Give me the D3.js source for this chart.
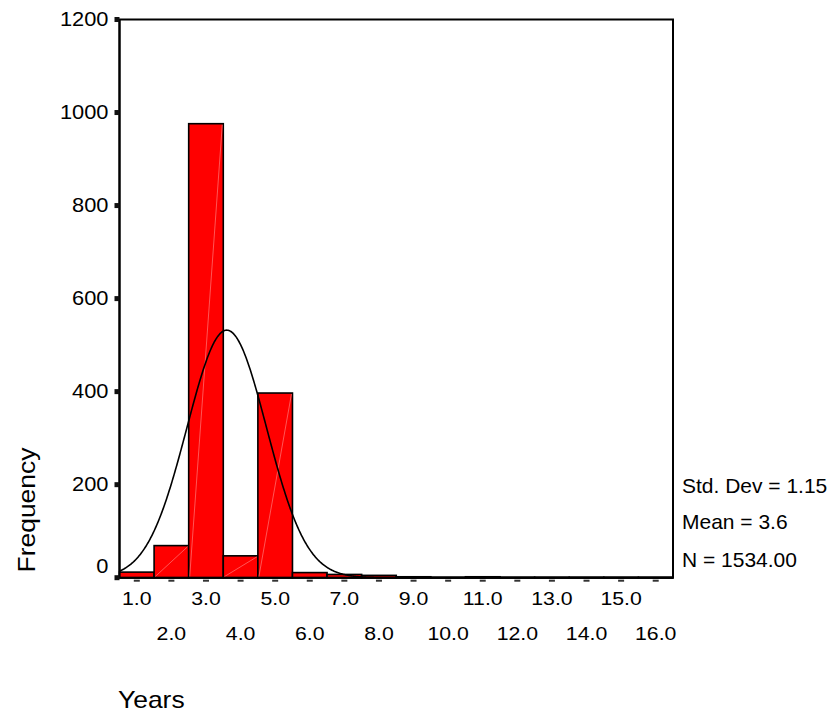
<!DOCTYPE html>
<html>
<head>
<meta charset="utf-8">
<script src="https://cdn.jsdelivr.net/npm/d3@7"></script>
<style>
  html, body { margin: 0; padding: 0; background: #fff; }
  svg { display: block; }
  text { font-family: "Liberation Sans", Arial, Helvetica, sans-serif; fill: #000; }
</style>
</head>
<body>
<svg id="chart" width="833" height="713"></svg>
<script>
// Histogram of years, one bar per whole-year bin
const binCenters = [1, 2, 3, 4, 5, 6, 7, 8, 9, 10, 11, 12, 13, 14, 15, 16];
const frequencies = [12, 69, 976, 47, 397, 11, 7, 5, 2, 1, 2, 1, 1, 1, 1, 1];
const yTicks = [0, 200, 400, 600, 800, 1000, 1200];
const xTickLabels = ["1.0", "2.0", "3.0", "4.0", "5.0", "6.0", "7.0", "8.0",
                     "9.0", "10.0", "11.0", "12.0", "13.0", "14.0", "15.0", "16.0"];
const stdDev = 1.15;
const mean = 3.6;
const nCases = 1534;
const statLines = ["Std. Dev = " + stdDev.toFixed(2), "Mean = " + mean.toFixed(1), "N = " + nCases.toFixed(2)];

const svg = d3.select("#chart");
const plot = { left: 119.5, right: 673, top: 19.5, bottom: 577.7 };

const x = d3.scaleLinear().domain([0.5, 16.5]).range([plot.left, plot.right]);
const y = d3.scaleLinear().domain([0, 1200]).range([plot.bottom, plot.top]);

// plot frame
svg.append("rect")
  .attr("x", plot.left).attr("y", plot.top)
  .attr("width", plot.right - plot.left).attr("height", plot.bottom - plot.top)
  .attr("fill", "#fff").attr("stroke", "#000").attr("stroke-width", 2);

// bars
const bars = svg.append("g");
binCenters.forEach((c, i) => {
  const x0 = x(c - 0.5), x1 = x(c + 0.5), yt = y(frequencies[i]);
  bars.append("rect")
    .attr("x", x0).attr("y", yt)
    .attr("width", x1 - x0).attr("height", y(0) - yt)
    .attr("fill", "#ff0000").attr("stroke", "#000").attr("stroke-width", 1.6);
  if (y(0) - yt > 8) {
    bars.append("line")
      .attr("x1", x0 + 1).attr("y1", y(0) - 1)
      .attr("x2", x1 - 1).attr("y2", yt + 1)
      .attr("stroke", "#ff9a9a").attr("stroke-width", 0.7).attr("opacity", 0.8);
  }
});

// fitted normal curve
const bw = 1;
const normal = v => nCases * bw / (stdDev * Math.sqrt(2 * Math.PI)) *
  Math.exp(-0.5 * Math.pow((v - mean) / stdDev, 2));
const curveX = d3.range(0.5, 16.5001, 0.02);
svg.append("path")
  .attr("d", d3.line().x(v => x(v)).y(v => y(normal(v)))(curveX))
  .attr("fill", "none").attr("stroke", "#000").attr("stroke-width", 1.6);

// redraw left/bottom axis lines above the bars
svg.append("line").attr("x1", plot.left).attr("x2", plot.right)
  .attr("y1", plot.bottom).attr("y2", plot.bottom)
  .attr("stroke", "#000").attr("stroke-width", 2);
svg.append("line").attr("x1", plot.left).attr("x2", plot.left)
  .attr("y1", plot.top).attr("y2", plot.bottom)
  .attr("stroke", "#000").attr("stroke-width", 2);

// y ticks and labels (the zero label sits above the x axis line)
const yAxis = svg.append("g");
yTicks.forEach(t => {
  yAxis.append("rect")
    .attr("x", plot.left - 5).attr("y", y(t) - 2.5)
    .attr("width", 5).attr("height", 5).attr("fill", "#111");
  const dy = t === 0 ? -5 : 6.5;
  yAxis.append("text")
    .attr("transform", `translate(${plot.left - 11},${y(t) + dy}) scale(1.12,1)`)
    .attr("text-anchor", "end")
    .style("font-size", "19.5px")
    .text(t);
});

// x tick dashes and staggered labels
const xAxis = svg.append("g");
binCenters.forEach((c, i) => {
  xAxis.append("rect")
    .attr("x", x(c) - 3).attr("y", plot.bottom + 2)
    .attr("width", 6).attr("height", 2).attr("fill", "#333");
  const row = i % 2;
  xAxis.append("text")
    .attr("transform", `translate(${x(c)},${row === 0 ? 605 : 640}) scale(1.15,1)`)
    .attr("text-anchor", "middle")
    .style("font-size", "18.5px")
    .text(xTickLabels[i]);
});

// axis titles
svg.append("text")
  .attr("transform", "translate(118,708) scale(1.15,1)")
  .style("font-size", "23px")
  .text("Years");
svg.append("text")
  .attr("transform", "translate(35,510) rotate(-90) scale(1.15,1)")
  .attr("text-anchor", "middle")
  .style("font-size", "23px")
  .text("Frequency");

// summary statistics
const statBaselines = [493, 529, 567];
statLines.forEach((s, i) => {
  svg.append("text")
    .attr("transform", `translate(682,${statBaselines[i]}) scale(1.05,1)`)
    .style("font-size", "20px")
    .text(s);
});
</script>
</body>
</html>
